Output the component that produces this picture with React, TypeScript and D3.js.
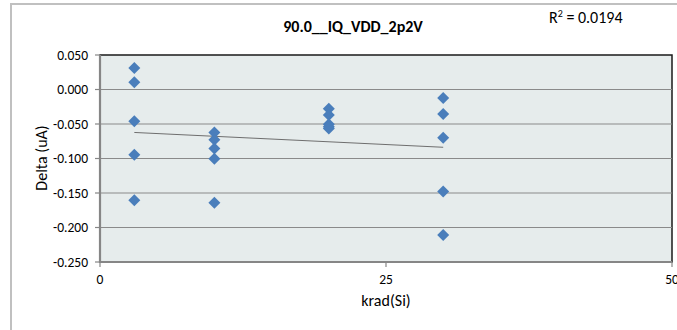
import React, { useEffect, useRef } from "react";
import * as d3 from "d3";

const xValues: number[] = [
  3, 3, 3, 3, 3,
  10, 10, 10, 10, 10,
  20, 20, 20, 20, 20,
  30, 30, 30, 30, 30,
];
const yValues: number[] = [
  0.031, 0.0105, -0.046, -0.0945, -0.1605,
  -0.0625, -0.073, -0.0855, -0.1005, -0.164,
  -0.028, -0.037, -0.0505, -0.054, -0.0565,
  -0.0125, -0.0355, -0.070, -0.148, -0.211,
];
const yTicks: number[] = [0.05, 0, -0.05, -0.1, -0.15, -0.2, -0.25];
const xTicks: number[] = [0, 25, 50];
const titleText = "90.0__IQ_VDD_2p2V";
const r2Text = "0.0194";

export default function App() {
  const ref = useRef<SVGSVGElement>(null);
  useEffect(() => {
    const svg = d3.select(ref.current);
    svg.selectAll("*").remove();
    const W = 677, H = 330;
    const left = 100, right = 672, top = 55, bottom = 262;
    const font = "Carlito, Lato, 'Open Sans', sans-serif";
    const x = d3.scaleLinear().domain([0, 50]).range([left, right]);
    const y = d3.scaleLinear().domain([-0.25, 0.05]).range([bottom, top]);

    svg.append("rect").attr("x", 0).attr("y", 0).attr("width", W).attr("height", H).attr("fill", "#fff");
    // chart border
    svg.append("rect").attr("x", 11).attr("y", 4).attr("width", 700).attr("height", 400)
      .attr("fill", "none").attr("stroke", "#c0c0c0").attr("stroke-width", 2);

    // plot area
    svg.append("rect").attr("x", left).attr("y", top).attr("width", right - left).attr("height", bottom - top)
      .attr("fill", "#e6ecec").attr("stroke", "#1a1a1a").attr("stroke-width", 1.5);

    // gridlines
    svg.append("g").selectAll("line").data(yTicks.filter(t => t > -0.25 && t < 0.05)).join("line")
      .attr("x1", left).attr("x2", right)
      .attr("y1", d => y(d)).attr("y2", d => y(d))
      .attr("stroke", "#8a8a8a").attr("stroke-width", 1.2);

    // axes lines (gray heavy)
    svg.append("line").attr("x1", left).attr("x2", left).attr("y1", top).attr("y2", bottom + 1)
      .attr("stroke", "#868686").attr("stroke-width", 2.2);
    svg.append("line").attr("x1", left - 1).attr("x2", right).attr("y1", bottom).attr("y2", bottom)
      .attr("stroke", "#868686").attr("stroke-width", 2.2);

    // y ticks
    const yg = svg.append("g");
    yg.selectAll("line").data(yTicks).join("line")
      .attr("x1", left - 5).attr("x2", left).attr("y1", d => y(d)).attr("y2", d => y(d))
      .attr("stroke", "#868686").attr("stroke-width", 1.2);
    yg.selectAll("text").data(yTicks).join("text")
      .attr("x", left - 12).attr("y", d => y(d)).attr("dy", "0.35em")
      .attr("text-anchor", "end").attr("font-family", font).attr("font-size", 13.5).attr("fill", "#000")
      .text(d => d3.format(".3f")(d).replace("−", "-"));

    // x ticks
    const xg = svg.append("g");
    xg.selectAll("line").data(xTicks).join("line")
      .attr("x1", d => x(d)).attr("x2", d => x(d)).attr("y1", bottom).attr("y2", bottom + 5)
      .attr("stroke", "#868686").attr("stroke-width", 1.2);
    xg.selectAll("text").data(xTicks).join("text")
      .attr("x", d => x(d)).attr("y", 284)
      .attr("text-anchor", "middle").attr("font-family", font).attr("font-size", 13.5).attr("fill", "#000")
      .text(d => String(d));

    // trendline (least squares)
    const n = xValues.length;
    const mx = d3.mean(xValues)!;
    const my = d3.mean(yValues)!;
    let sxy = 0, sxx = 0;
    for (let i = 0; i < n; i++) {
      sxy += (xValues[i] - mx) * (yValues[i] - my);
      sxx += (xValues[i] - mx) ** 2;
    }
    const slope = sxy / sxx;
    const icpt = my - slope * mx;
    const x0 = d3.min(xValues)!, x1 = d3.max(xValues)!;
    svg.append("line")
      .attr("x1", x(x0)).attr("y1", y(icpt + slope * x0))
      .attr("x2", x(x1)).attr("y2", y(icpt + slope * x1))
      .attr("stroke", "#6e6e6e").attr("stroke-width", 1);

    // diamonds
    const sym = d3.symbol().type(d3.symbolSquare).size(72);
    svg.append("g").selectAll("path").data(xValues.map((xv, i) => [xv, yValues[i]])).join("path")
      .attr("d", sym as any)
      .attr("transform", d => `translate(${x(d[0])},${y(d[1])}) rotate(45)`)
      .attr("fill", "#4a7ebb");

    // title
    svg.append("text").attr("x", 353).attr("y", 32).attr("text-anchor", "middle")
      .attr("font-family", font).attr("font-size", 16).attr("font-weight", "bold").attr("fill", "#000")
      .text(titleText);

    // R^2
    const r2 = svg.append("text").attr("x", 549).attr("y", 23)
      .attr("font-family", font).attr("font-size", 16).attr("fill", "#000");
    r2.append("tspan").text("R");
    r2.append("tspan").attr("dy", -6).attr("font-size", 10).text("2");
    r2.append("tspan").attr("dy", 6).text(" = " + r2Text);

    // axis titles
    svg.append("text").attr("x", 386).attr("y", 306).attr("text-anchor", "middle")
      .attr("font-family", font).attr("font-size", 16).attr("fill", "#000").text("krad(Si)");
    svg.append("text").attr("transform", "translate(47,158) rotate(-90)").attr("text-anchor", "middle")
      .attr("font-family", font).attr("font-size", 16).attr("fill", "#000").text("Delta (uA)");
  }, []);
  return (
    <svg ref={ref} width={677} height={330}
      style={{ position: "absolute", left: 0, top: 0, display: "block" }} />
  );
}
